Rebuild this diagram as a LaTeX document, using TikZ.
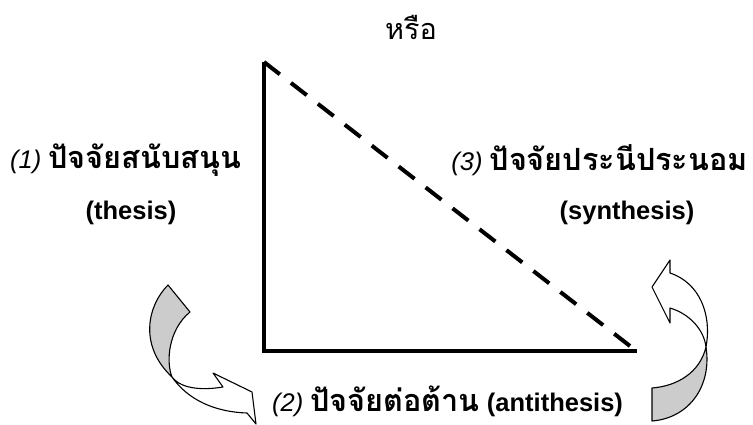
\documentclass[tikz,border=0pt]{standalone}
\usepackage{fontspec}
\setmainfont{Liberation Sans}
\newfontfamily\thai[Script=Thai,Scale=1.2]{Loma}
\tikzset{
  axisline/.style={line width=4pt, line cap=butt, line join=miter},
  dashline/.style={line width=4pt, dash pattern=on 20pt off 14.1pt},
  tailpart/.style={draw=black, line width=1.1pt, fill=black!20, line join=round},
  headpart/.style={draw=black, line width=1.1pt, fill=white, line join=round},
  lbl/.style={inner sep=0pt, font=\fontsize{25.5}{30}\selectfont},
}
\begin{document}
\begin{tikzpicture}[x=1pt,y=-1pt]
\useasboundingbox (0,0) rectangle (753,425);
% triangle
\coordinate (top) at (264,62);
\coordinate (corner) at (264,351);
\coordinate (right) at (637,351);
\coordinate (dashend) at (630,346);
\draw[axisline] (top) -- (corner) -- (right);
\draw[dashline] (top) -- (dashend);
% texts
\node[lbl, font=\fontsize{24}{28}\selectfont\thai] (or) at (411,27) {หรือ};
\node[lbl, anchor=west] (t1) at (10,160) {\textit{(1)} {\thai\bfseries ปัจจัยสนับสนุน}};
\node[lbl, font=\fontsize{25.5}{30}\selectfont\bfseries] (t1b) at (131,213) {(thesis)};
\node[lbl, anchor=east] (t3) at (748,160) {\textit{(3)} {\thai\bfseries ปัจจัยประนีประนอม}};
\node[lbl, font=\fontsize{25.5}{30}\selectfont\bfseries] (t3b) at (627,213) {(synthesis)};
\node[lbl, anchor=west] (t2) at (272,401) {\textit{(2)} {\thai\bfseries ปัจจัยต่อต้าน} \textbf{(antithesis)}};
% left curved arrow
\coordinate (lx) at (172,377);
\draw[tailpart] (168,285) .. controls (148,305) and (138,345) .. (lx)
  .. controls (166,362) and (168,330) .. (190,312) -- cycle;
\draw[headpart] (lx) .. controls (182,390) and (205,390) .. (223,387)
  -- (213,373) -- (252,392) -- (256,424) -- (247,413)
  .. controls (215,412) and (188,400) .. (lx) -- cycle;
% right curved arrow
\coordinate (rx) at (706,347);
\draw[tailpart] (652,421) -- (652,388)
  .. controls (678,386) and (700,372) .. (rx)
  .. controls (712,385) and (690,418) .. (652,421) -- cycle;
\draw[headpart] (rx) .. controls (712,315) and (700,283) .. (670,273)
  -- (670,260) -- (652,287) -- (670,323) -- (670,308)
  .. controls (690,314) and (704,330) .. (rx) -- cycle;
\end{tikzpicture}
\end{document}
